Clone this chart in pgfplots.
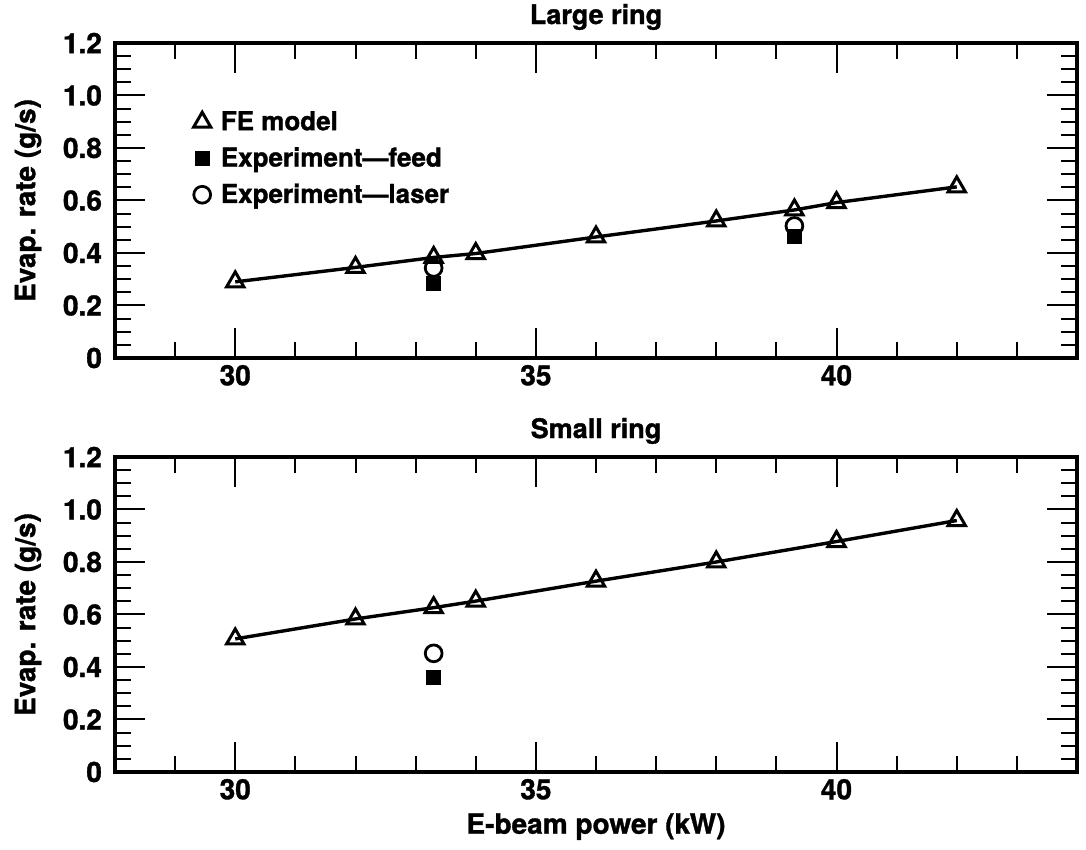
\documentclass[border=0pt]{standalone}
\usepackage{fontspec}
\setmainfont{TeX Gyre Heros}[BoldFeatures={FakeBold=1.2}]
\usepackage{pgfplots}
\pgfplotsset{compat=1.18}

\pgfplotsset{
  ringaxis/.style={
    scale only axis, width=481pt, height=157.5pt,
    xmin=28, xmax=44, ymin=0, ymax=1.2,
    xtick={30,35,40}, minor xtick={29,31,32,33,34,36,37,38,39,41,42,43},
    ytick={0,0.2,0.4,0.6,0.8,1.0,1.2},
    yticklabels={0,0.2,0.4,0.6,0.8,1.0,1.2},
    minor ytick={0.05,0.1,0.15,0.25,0.3,0.35,0.45,0.5,0.55,0.65,0.7,0.75,0.85,0.9,0.95,1.05,1.1,1.15},
    tick align=inside, major tick length=15pt, minor tick length=8pt,
    axis line style={line width=1.8pt},
    every tick/.style={line width=1pt, black},
    /pgf/number format/assume math mode=true,
    tick label style={font=\bfseries\fontsize{14}{16}\selectfont},
    yticklabel style={xshift=-3pt},
    label style={font=\bfseries\fontsize{14}{16}\selectfont},
    ylabel style={yshift=4pt},
    title style={font=\bfseries\fontsize{13.5}{16}\selectfont, yshift=-3pt},
    ylabel={Evap. rate (g/s)},
    fe/.style={only marks, mark=triangle, mark size=5pt, mark options={fill=white, line width=1.5pt}},
    feline/.style={line width=1.7pt, no marks, forget plot},
    feed/.style={only marks, mark=square*, mark size=3.5pt},
    laser/.style={only marks, mark=o, mark size=4.2pt, mark options={line width=1.4pt, fill=white}},
  }
}

\begin{document}
\begin{tikzpicture}
\useasboundingbox (-57.5pt,-39pt) rectangle (485.5pt,386pt);

% top panel
\begin{axis}[ringaxis, at={(0,207pt)}, title={Large ring},
  legend style={at={(0.075,0.81)}, anchor=north west, draw=none, fill=none,
    font=\bfseries\fontsize{13}{15}\selectfont, row sep=3pt,
    nodes={inner xsep=5pt}},
  legend cell align=left]
  \addplot[feline] coordinates {(30,0.29) (32,0.345) (33.3,0.383) (34,0.398) (36,0.461) (38,0.522) (39.3,0.564) (40,0.592) (42,0.652)};
  \addplot[fe] coordinates {(30,0.29) (32,0.345) (33.3,0.383) (34,0.398) (36,0.461) (38,0.522) (39.3,0.564) (40,0.592) (42,0.652)};
  \addplot[feed] coordinates {(33.3,0.286) (39.3,0.465)};
  \addplot[laser] coordinates {(33.3,0.343) (39.3,0.503)};
  \legend{FE model, Experiment---feed, Experiment---laser}
\end{axis}

% bottom panel
\begin{axis}[ringaxis, at={(0,0)}, title={Small ring}, xlabel={E-beam power (kW)}]
  \addplot[feline] coordinates {(30,0.507) (32,0.583) (33.3,0.626) (34,0.651) (36,0.727) (38,0.80) (40,0.878) (42,0.958)};
  \addplot[fe] coordinates {(30,0.507) (32,0.583) (33.3,0.626) (34,0.651) (36,0.727) (38,0.80) (40,0.878) (42,0.958)};
  \addplot[feed] coordinates {(33.3,0.362)};
  \addplot[laser] coordinates {(33.3,0.452)};
\end{axis}
\end{tikzpicture}
\end{document}
